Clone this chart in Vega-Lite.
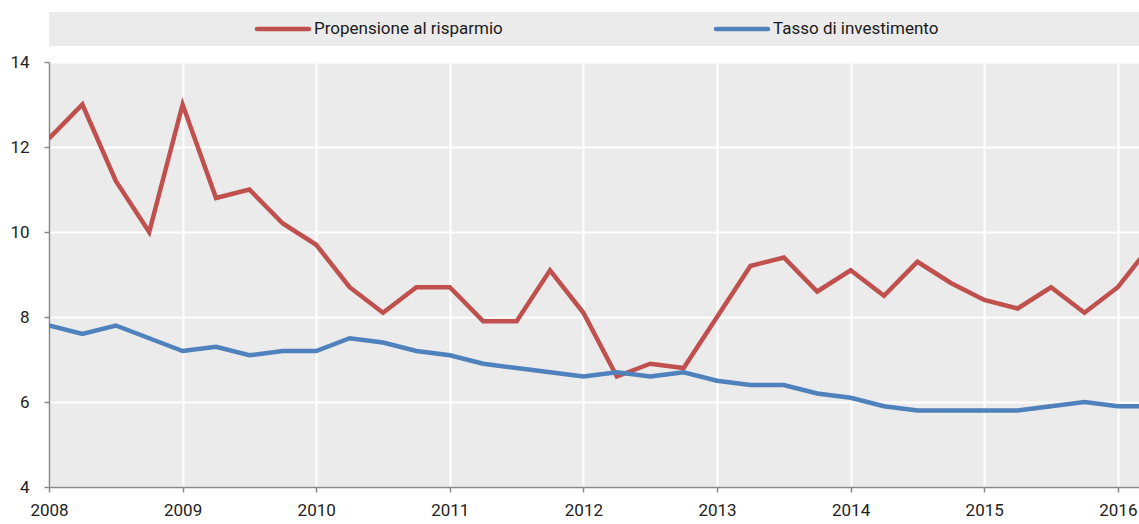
{
  "$schema": "https://vega.github.io/schema/vega-lite/v6.json",
  "padding": {"left": 9, "top": 12, "right": 0, "bottom": 0},
  "background": "white",
  "spacing": 16,
  "bounds": "flush",
  "config": {
    "axis": {
      "domainColor": "#898989",
      "domainWidth": 1.5,
      "tickColor": "#898989",
      "tickSize": 5,
      "tickWidth": 1.5,
      "labelFont": "Roboto",
      "labelFontSize": 17,
      "labelColor": "#222222",
      "labelFlush": false,
      "gridColor": "#ffffff",
      "gridWidth": 2,
      "gridOpacity": 1
    },
    "axisY": {"labelPadding": 15},
    "axisX": {"labelPadding": 10},
    "text": {"font": "Roboto"}
  },
  "datasets": {
    "serie": [
      {"serie": "Propensione al risparmio"},
      {"serie": "Tasso di investimento"}
    ],
    "dati": [
      {"anno": 2008.0, "serie": "Propensione al risparmio", "valore": 12.2},
      {"anno": 2008.25, "serie": "Propensione al risparmio", "valore": 13.0},
      {"anno": 2008.5, "serie": "Propensione al risparmio", "valore": 11.2},
      {"anno": 2008.75, "serie": "Propensione al risparmio", "valore": 10.0},
      {"anno": 2009.0, "serie": "Propensione al risparmio", "valore": 13.0},
      {"anno": 2009.25, "serie": "Propensione al risparmio", "valore": 10.8},
      {"anno": 2009.5, "serie": "Propensione al risparmio", "valore": 11.0},
      {"anno": 2009.75, "serie": "Propensione al risparmio", "valore": 10.2},
      {"anno": 2010.0, "serie": "Propensione al risparmio", "valore": 9.7},
      {"anno": 2010.25, "serie": "Propensione al risparmio", "valore": 8.7},
      {"anno": 2010.5, "serie": "Propensione al risparmio", "valore": 8.1},
      {"anno": 2010.75, "serie": "Propensione al risparmio", "valore": 8.7},
      {"anno": 2011.0, "serie": "Propensione al risparmio", "valore": 8.7},
      {"anno": 2011.25, "serie": "Propensione al risparmio", "valore": 7.9},
      {"anno": 2011.5, "serie": "Propensione al risparmio", "valore": 7.9},
      {"anno": 2011.75, "serie": "Propensione al risparmio", "valore": 9.1},
      {"anno": 2012.0, "serie": "Propensione al risparmio", "valore": 8.1},
      {"anno": 2012.25, "serie": "Propensione al risparmio", "valore": 6.6},
      {"anno": 2012.5, "serie": "Propensione al risparmio", "valore": 6.9},
      {"anno": 2012.75, "serie": "Propensione al risparmio", "valore": 6.8},
      {"anno": 2013.0, "serie": "Propensione al risparmio", "valore": 8.0},
      {"anno": 2013.25, "serie": "Propensione al risparmio", "valore": 9.2},
      {"anno": 2013.5, "serie": "Propensione al risparmio", "valore": 9.4},
      {"anno": 2013.75, "serie": "Propensione al risparmio", "valore": 8.6},
      {"anno": 2014.0, "serie": "Propensione al risparmio", "valore": 9.1},
      {"anno": 2014.25, "serie": "Propensione al risparmio", "valore": 8.5},
      {"anno": 2014.5, "serie": "Propensione al risparmio", "valore": 9.3},
      {"anno": 2014.75, "serie": "Propensione al risparmio", "valore": 8.8},
      {"anno": 2015.0, "serie": "Propensione al risparmio", "valore": 8.4},
      {"anno": 2015.25, "serie": "Propensione al risparmio", "valore": 8.2},
      {"anno": 2015.5, "serie": "Propensione al risparmio", "valore": 8.7},
      {"anno": 2015.75, "serie": "Propensione al risparmio", "valore": 8.1},
      {"anno": 2016.0, "serie": "Propensione al risparmio", "valore": 8.7},
      {"anno": 2016.25, "serie": "Propensione al risparmio", "valore": 9.7},
      {"anno": 2008.0, "serie": "Tasso di investimento", "valore": 7.8},
      {"anno": 2008.25, "serie": "Tasso di investimento", "valore": 7.6},
      {"anno": 2008.5, "serie": "Tasso di investimento", "valore": 7.8},
      {"anno": 2008.75, "serie": "Tasso di investimento", "valore": 7.5},
      {"anno": 2009.0, "serie": "Tasso di investimento", "valore": 7.2},
      {"anno": 2009.25, "serie": "Tasso di investimento", "valore": 7.3},
      {"anno": 2009.5, "serie": "Tasso di investimento", "valore": 7.1},
      {"anno": 2009.75, "serie": "Tasso di investimento", "valore": 7.2},
      {"anno": 2010.0, "serie": "Tasso di investimento", "valore": 7.2},
      {"anno": 2010.25, "serie": "Tasso di investimento", "valore": 7.5},
      {"anno": 2010.5, "serie": "Tasso di investimento", "valore": 7.4},
      {"anno": 2010.75, "serie": "Tasso di investimento", "valore": 7.2},
      {"anno": 2011.0, "serie": "Tasso di investimento", "valore": 7.1},
      {"anno": 2011.25, "serie": "Tasso di investimento", "valore": 6.9},
      {"anno": 2011.5, "serie": "Tasso di investimento", "valore": 6.8},
      {"anno": 2011.75, "serie": "Tasso di investimento", "valore": 6.7},
      {"anno": 2012.0, "serie": "Tasso di investimento", "valore": 6.6},
      {"anno": 2012.25, "serie": "Tasso di investimento", "valore": 6.7},
      {"anno": 2012.5, "serie": "Tasso di investimento", "valore": 6.6},
      {"anno": 2012.75, "serie": "Tasso di investimento", "valore": 6.7},
      {"anno": 2013.0, "serie": "Tasso di investimento", "valore": 6.5},
      {"anno": 2013.25, "serie": "Tasso di investimento", "valore": 6.4},
      {"anno": 2013.5, "serie": "Tasso di investimento", "valore": 6.4},
      {"anno": 2013.75, "serie": "Tasso di investimento", "valore": 6.2},
      {"anno": 2014.0, "serie": "Tasso di investimento", "valore": 6.1},
      {"anno": 2014.25, "serie": "Tasso di investimento", "valore": 5.9},
      {"anno": 2014.5, "serie": "Tasso di investimento", "valore": 5.8},
      {"anno": 2014.75, "serie": "Tasso di investimento", "valore": 5.8},
      {"anno": 2015.0, "serie": "Tasso di investimento", "valore": 5.8},
      {"anno": 2015.25, "serie": "Tasso di investimento", "valore": 5.8},
      {"anno": 2015.5, "serie": "Tasso di investimento", "valore": 5.9},
      {"anno": 2015.75, "serie": "Tasso di investimento", "valore": 6.0},
      {"anno": 2016.0, "serie": "Tasso di investimento", "valore": 5.9},
      {"anno": 2016.25, "serie": "Tasso di investimento", "valore": 5.9}
    ]
  },
  "vconcat": [
    {
      "width": 1091,
      "height": 34,
      "data": {"name": "serie"},
      "view": {"fill": "#ebebeb", "stroke": null},
      "layer": [
        {
          "mark": {"type": "point", "shape": "M-1,0H1", "size": 2704, "filled": false, "strokeWidth": 4.5, "strokeCap": "round", "opacity": 1},
          "encoding": {
            "x": {"field": "serie", "type": "nominal", "sort": null, "scale": {"type": "point", "range": [234, 693], "padding": 0}, "axis": null},
            "color": {"field": "serie", "type": "nominal", "scale": {"domain": ["Propensione al risparmio", "Tasso di investimento"], "range": ["#c0504d", "#4f81bd"]}, "legend": null}
          }
        },
        {
          "mark": {"type": "text", "align": "left", "baseline": "middle", "dx": 31, "fontSize": 17, "color": "#1a1a1a"},
          "encoding": {
            "x": {"field": "serie", "type": "nominal", "sort": null, "scale": {"type": "point", "range": [234, 693], "padding": 0}, "axis": null},
            "text": {"field": "serie"}
          }
        }
      ]
    },
    {
      "width": 1091,
      "height": 425,
      "data": {"name": "dati"},
      "view": {"fill": "#ebebeb", "stroke": null},
      "mark": {"type": "line", "strokeWidth": 4.5, "clip": true, "strokeJoin": "miter"},
      "encoding": {
        "x": {"field": "anno", "type": "quantitative", "scale": {"domain": [2008, 2016.166], "nice": false, "zero": false},
              "axis": {"values": [2008, 2009, 2010, 2011, 2012, 2013, 2014, 2015, 2016], "format": "d", "title": null}},
        "y": {"field": "valore", "type": "quantitative", "scale": {"domain": [4, 14], "nice": false, "zero": false},
              "axis": {"values": [4, 6, 8, 10, 12, 14], "title": null}},
        "color": {"field": "serie", "type": "nominal", "scale": {"domain": ["Propensione al risparmio", "Tasso di investimento"], "range": ["#c0504d", "#4f81bd"]}, "legend": null}
      }
    }
  ]
}
